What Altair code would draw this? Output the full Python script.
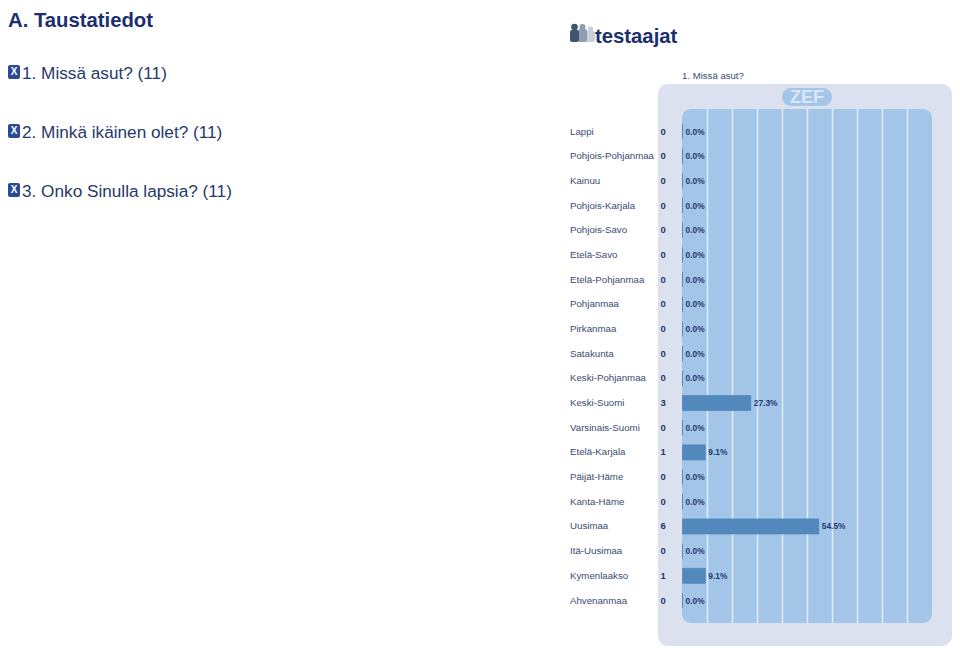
import altair as alt
import pandas as pd

regions = ["Lappi", "Pohjois-Pohjanmaa", "Kainuu", "Pohjois-Karjala", "Pohjois-Savo",
           "Etelä-Savo", "Etelä-Pohjanmaa", "Pohjanmaa", "Pirkanmaa", "Satakunta",
           "Keski-Pohjanmaa", "Keski-Suomi", "Varsinais-Suomi", "Etelä-Karjala",
           "Päijät-Häme", "Kanta-Häme", "Uusimaa", "Itä-Uusimaa", "Kymenlaakso", "Ahvenanmaa"]
counts = [0, 0, 0, 0, 0, 0, 0, 0, 0, 0, 0, 3, 0, 1, 0, 0, 6, 0, 1, 0]
shares = [0.0, 0.0, 0.0, 0.0, 0.0, 0.0, 0.0, 0.0, 0.0, 0.0, 0.0, 27.3, 0.0, 9.1, 0.0, 0.0, 54.5, 0.0, 9.1, 0.0]
share_labels = [f"{s:.1f}%" for s in shares]
grid_values = [10, 20, 30, 40, 50, 60, 70, 80, 90]
questions = ["1. Missä asut? (11)", "2. Minkä ikäinen olet? (11)", "3. Onko Sinulla lapsia? (11)"]
section_title = "A. Taustatiedot"
group_title = "testaajat"
chart_title = "1. Missä asut?"
logo_text = "ZEF"

FONT = "Liberation Sans"
NAVY = "#1b2f6e"
TEXT = "#27386a"
OX, OY = 8, 8  # page margin

df = pd.DataFrame({"region": regions, "count": counts, "share": shares, "label": share_labels})
grid_df = pd.DataFrame({"g": grid_values})
one = pd.DataFrame({"a": [0]})

x_scale = alt.Scale(domain=[0, 100], range=[682.5 - OX, 932.5 - OX])
y_scale = alt.Scale(type="point", domain=regions, range=[131.5 - OY, 600.5 - OY], padding=0)
X = alt.X("share:Q", scale=x_scale, axis=None)
Y = alt.Y("region:N", scale=y_scale, axis=None)


def box(x0, x1, y0, y1, color, radius=0):
    return alt.Chart(one).mark_rect(color=color, cornerRadius=radius).encode(
        x=alt.value(x0 - OX), x2=alt.value(x1 - OX), y=alt.value(y0 - OY), y2=alt.value(y1 - OY))


def label(s, x, y, size, color=TEXT, weight="normal", align="left"):
    return alt.Chart(one).mark_text(font=FONT, fontSize=size, color=color, fontWeight=weight,
                                    align=align, baseline="middle").encode(
        x=alt.value(x - OX), y=alt.value(y - OY), text=alt.value(s))


def dot(x, y, size, color):
    return alt.Chart(one).mark_point(filled=True, color=color, opacity=1, size=size).encode(
        x=alt.value(x - OX), y=alt.value(y - OY))


layers = [
    box(658, 952, 84, 646, "#dce1f0", 10),
    box(682, 932, 109, 623, "#a3c6e8", 9),
    box(782, 832, 88, 106, "#a3c6e8", 9),
    label(logo_text, 807, 97.5, 18, "#dbe6f4", "bold", "center"),
    alt.Chart(grid_df).mark_rule(color="#e6eef8", strokeWidth=1.4).encode(
        x=alt.X("g:Q", scale=x_scale, axis=None), y=alt.value(109 - OY), y2=alt.value(623 - OY)),
    alt.Chart(df).mark_bar(color="#5288bc", stroke="#5288bc", strokeWidth=0.8, height=15).encode(
        x=X, x2=alt.datum(0), y=Y),
    alt.Chart(df).mark_text(font=FONT, fontSize=9.7, color="#3a4a70", align="left", baseline="middle").encode(
        x=alt.value(570 - OX), y=Y, text="region:N"),
    alt.Chart(df).mark_text(font=FONT, fontSize=9.5, fontWeight="bold", color="#23386f", align="left", baseline="middle").encode(
        x=alt.value(660.5 - OX), y=Y, text="count:Q"),
    alt.Chart(df).mark_text(font=FONT, fontSize=8.4, fontWeight="bold", color="#23386f", align="left", baseline="middle", dx=3).encode(
        x=X, y=Y, text="label:N"),
    label(section_title, 8, 21, 20.3, NAVY, "bold"),
    label(group_title, 595, 37, 20.3, NAVY, "bold"),
    label(chart_title, 682, 75.5, 9.6, "#3a4a70"),
]

# question rows with their small badge
for q, yy in zip(questions, [73, 132, 191]):
    layers += [
        box(8, 20, yy - 8, yy + 6, "#2a4a94", 2),
        label("X", 14, yy - 1, 10, "#ffffff", "bold", "center"),
        label(q, 22, yy + 0.5, 17.2, TEXT),
    ]

# people icon of the "testaajat" heading
layers += [
    box(586, 595, 31, 42, "#c9d0da", 2), dot(590.5, 29, 30, "#c9d0da"),
    box(578, 587, 29, 42, "#8f9db0", 2), dot(582.5, 27, 36, "#8f9db0"),
    box(570, 579, 30, 42, "#3f556f", 2), dot(574.5, 27, 45, "#3f556f"),
]

chart = alt.layer(*layers).properties(
    width=944, height=640, padding=0,
    view=alt.ViewConfig(stroke=None),
).configure(autosize=alt.AutoSizeParams(type="none"), background="#ffffff")

chart.save("out.html", embed_options={"renderer": "svg", "actions": False})
